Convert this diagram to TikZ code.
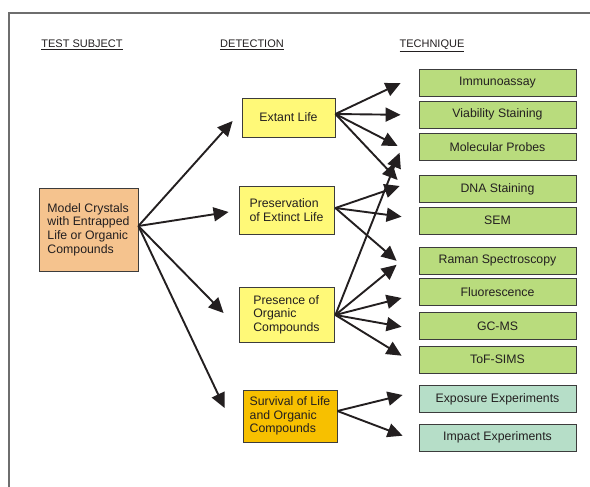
\documentclass[tikz,border=0pt]{standalone}
\usepackage{fontspec}
\setmainfont{Liberation Sans}
\usetikzlibrary{arrows.meta}

\definecolor{ink}{RGB}{35,31,32}
\definecolor{frameline}{RGB}{110,110,110}
\definecolor{boxline}{RGB}{60,60,60}
\definecolor{peach}{RGB}{245,195,142}
\definecolor{lemon}{RGB}{255,249,120}
\definecolor{gold}{RGB}{247,192,0}
\definecolor{leaf}{RGB}{185,220,125}
\definecolor{mint}{RGB}{182,222,200}

\tikzset{
  box/.style={draw=boxline, line width=0.8pt, inner sep=0pt, text=ink,
    font=\fontsize{12.3}{13.6}\selectfont},
  subject/.style={box, fill=peach, align=left},
  detect/.style={box, fill=lemon, align=left},
  survive/.style={box, fill=gold, align=left},
  tech/.style={box, fill=leaf, align=center, minimum width=157pt, minimum height=27pt},
  expt/.style={tech, fill=mint},
  heading/.style={anchor=base, text=ink, font=\fontsize{11}{13}\selectfont},
  arr/.style={draw=ink, line width=1.9pt, -{Triangle[length=15pt,width=14pt]}}
}

\begin{document}
\begin{tikzpicture}[x=1pt,y=-1pt]
    \useasboundingbox (0,0) rectangle (590,487);
    % Frame
    \draw[frameline, line width=1.2pt] (9,487) -- (9,13) -- (590,13);
    % Headings
    \node[heading] (hsubj) at (82,47.5) {\underline{TEST SUBJECT}};
    \node[heading] (hdet) at (252,47.5) {\underline{DETECTION}};
    \node[heading] (htech) at (432,47.5) {\underline{TECHNIQUE}};
    % Test subject
    \node[subject, minimum width=99pt, minimum height=83pt] (crystals) at (88.5,229.5)
      {Model Crystals\\with Entrapped\\Life or Organic\\Compounds};
    % Detection
    \node[detect, minimum width=93pt, minimum height=39pt] (extant) at (288.5,117.5) {Extant Life};
    \node[detect, minimum width=95pt, minimum height=48pt] (extinct) at (286.5,210)
      {Preservation\\of Extinct Life};
    \node[detect, minimum width=95pt, minimum height=55pt] (organic) at (286.5,314.5)
      {Presence of\\Organic\\Compounds};
    \node[survive, minimum width=94pt, minimum height=52pt] (survival) at (290,416)
      {Survival of Life\\and Organic\\Compounds};
    % Techniques
    \node[tech] (immuno) at (497.5,82.6) {Immunoassay};
    \node[tech] (viab) at (497.5,114.8) {Viability Staining};
    \node[tech] (probes) at (497.5,146.7) {Molecular Probes};
    \node[tech] (dna) at (497.5,189) {DNA Staining};
    \node[tech] (sem) at (497.5,220.7) {SEM};
    \node[tech] (raman) at (497.5,260.8) {Raman Spectroscopy};
    \node[tech] (fluor) at (497.5,292) {Fluorescence};
    \node[tech] (gcms) at (497.5,325.8) {GC-MS};
    \node[tech] (tofsims) at (497.5,359.7) {ToF-SIMS};
    \node[expt] (expos) at (497.5,399) {Exposure Experiments};
    \node[expt] (impact) at (497.5,437.7) {Impact Experiments};
    % Test subject to detection
    \draw[arr] ([shift={(0,-3.5)}]crystals.east) -- ([shift={(-9,3.5)}]extant.west);
    \draw[arr] ([shift={(0,-3.5)}]crystals.east) -- ([shift={(-10,2)}]extinct.west);
    \draw[arr] ([shift={(0,-3.5)}]crystals.east) -- ([shift={(-15,-1.5)}]organic.west);
    \draw[arr] ([shift={(0,-3.5)}]crystals.east) -- ([shift={(-18,-8)}]survival.west);
    % Extant life
    \draw[arr] ([shift={(0,-3.5)}]extant.east) -- ([shift={(-18,0.5)}]immuno.west);
    \draw[arr] ([shift={(0,-3.5)}]extant.east) -- ([shift={(-18,0)}]viab.west);
    \draw[arr] ([shift={(0,-3.5)}]extant.east) -- ([shift={(-21,-0.7)}]probes.west);
    \draw[arr] ([shift={(0,-3.5)}]extant.east) -- ([shift={(-21,-9)}]dna.west);
    % Extinct life
    \draw[arr] ([shift={(1,-2)}]extinct.east) -- ([shift={(-19,-3)}]dna.west);
    \draw[arr] ([shift={(1,-2)}]extinct.east) -- ([shift={(-17,-4)}]sem.west);
    \draw[arr] ([shift={(1,-2)}]extinct.east) -- ([shift={(-22,0)}]raman.west);
    % Organic compounds
    \draw[arr] ([shift={(1,0.5)}]organic.east) -- ([shift={(-19,6)}]probes.west);
    \draw[arr] ([shift={(1,0.5)}]organic.east) -- ([shift={(-22,4)}]raman.west);
    \draw[arr] ([shift={(1,0.5)}]organic.east) -- ([shift={(-17,6)}]fluor.west);
    \draw[arr] ([shift={(1,0.5)}]organic.east) -- ([shift={(-17,1)}]gcms.west);
    \draw[arr] ([shift={(1,0.5)}]organic.east) -- ([shift={(-17,-4)}]tofsims.west);
    % Survival
    \draw[arr] ([shift={(0,-5)}]survival.east) -- ([shift={(-16,-4)}]expos.west);
    \draw[arr] ([shift={(0,-5)}]survival.east) -- ([shift={(-16,-2)}]impact.west);
\end{tikzpicture}
\end{document}
